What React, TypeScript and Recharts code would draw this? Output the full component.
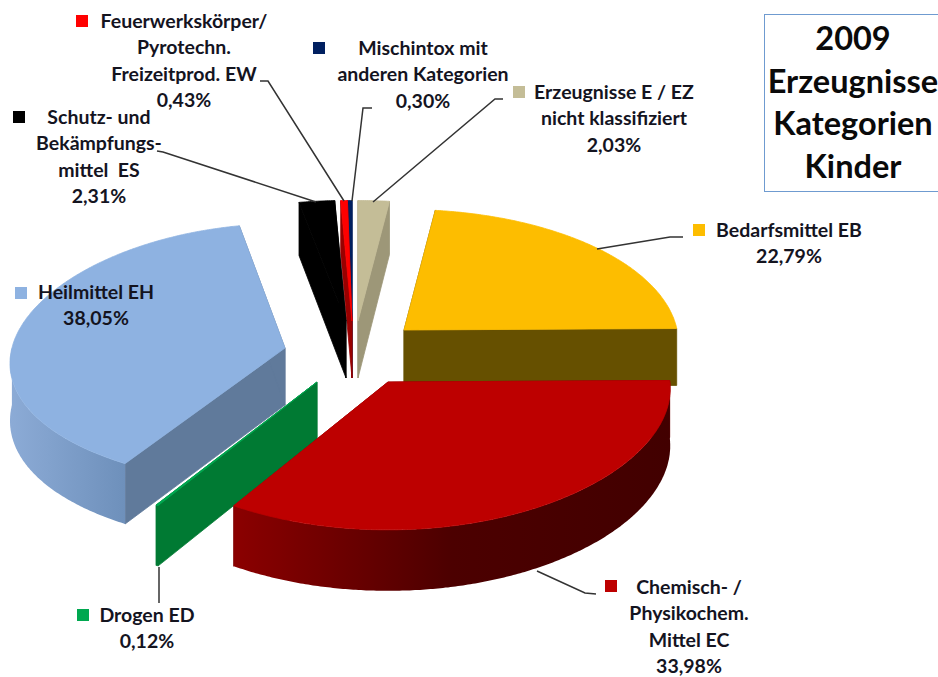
import React from "react";
import { PieChart, Pie, Cell } from "recharts";

// slice order runs counterclockwise from Bedarfsmittel so that Recharts paints them back to front
const categoryLines = [
  ["Bedarfsmittel EB"],
  ["Erzeugnisse E / EZ", "nicht klassifiziert"],
  ["Mischintox mit", "anderen Kategorien"],
  ["Feuerwerkskörper/", "Pyrotechn.", "Freizeitprod. EW"],
  ["Schutz- und", "Bekämpfungs-", "mittel  ES"],
  ["Heilmittel EH"],
  ["Drogen ED"],
  ["Chemisch- /", "Physikochem.", "Mittel EC"],
];
const shares = [22.79, 2.03, 0.3, 0.43, 2.31, 38.05, 0.12, 33.98];
const titleLines = ["2009", "Erzeugnisse", "Kategorien", "Kinder"];

const topColors = ["#fdbd00", "#c4bd97", "#002060", "#ff0000", "#000000", "#8eb2e1", "#00a850", "#bd0000"];
const wallColors = ["#665000", "#9d9778", "#001a50", "#990000", "#000000", "#607a9b", "#007a33", "#7a0000"];
const rimGradients: (string[] | null)[] = [
  null,
  null,
  null,
  null,
  null,
  ["#8cabd6", "#6e90bb"],
  null,
  ["#8b0000", "#4c0000", "#420000"],
];

// explode offset plus the ellipse each slice is projected on (rx, ry as share of the radius, kx, ky perspective)
const explode = [
  { dx: 54, dy: -20, rx: 0.993, ry: 0.487, kx: 0.1, ky: 0.1 },
  { dx: 8, dy: -29, rx: 1, ry: 0.487, kx: 0.1, ky: 0.1 },
  { dx: 2, dy: -29, rx: 1, ry: 0.487, kx: 0.1, ky: 0.1 },
  { dx: 2, dy: -29, rx: 1, ry: 0.487, kx: 0.1, ky: 0.1 },
  { dx: -4, dy: -29, rx: 1, ry: 0.487, kx: 0.1, ky: 0.1 },
  { dx: -65, dy: -2, rx: 0.993, ry: 0.476, kx: 0.12, ky: 0.05 },
  { dx: -33, dy: 32, rx: 1, ry: 0.487, kx: 0.12, ky: 0.1 },
  { dx: 38, dy: 32, rx: 1.025, ry: 0.48, kx: 0.05, ky: 0.12 },
];

const labelLayout = [
  { x: 789, y: 237, mx: 693, my: 224, leader: "M683 237 L670 237 L597 249" },
  { x: 614, y: 99, mx: 513, my: 86, leader: "M503 99 L495 99 L373 202" },
  { x: 423, y: 55, mx: 313, my: 42, leader: "M372 108 L363 108 L352 201" },
  { x: 184, y: 28, mx: 76, my: 15, leader: "M260 81 L268 81 L344 201" },
  { x: 99, y: 124, mx: 13, my: 111, leader: "M157 151 L163 152 L316 202" },
  { x: 96, y: 299, mx: 15, my: 287, leader: "" },
  { x: 147, y: 622, mx: 77, my: 609, leader: "M159 567 L159 603" },
  { x: 689, y: 594, mx: 605, my: 580, leader: "M596 594 L585 593 L537 571" },
];

const LINE_HEIGHT = 26.3;
const FONT = "Lato, sans-serif";

const data = shares.map((value, i) => ({ name: categoryLines[i].join(" "), value }));

// start where Bedarfsmittel meets Chemisch, i.e. after the first two slices clockwise from 12 o'clock
const firstAngle = 90 - ((shares[0] + shares[1]) / 100) * 360;

function SliceShape(props: any) {
  const { cx, cy, outerRadius, startAngle, endAngle, index } = props;
  const off = explode[index];
  const ax = cx + off.dx;
  const ay = cy + off.dy;
  const rx = outerRadius * off.rx;
  const ry = outerRadius * off.ry;
  // clockwise degrees from 12 o'clock, kept positive
  let from = 90 - endAngle;
  let to = 90 - startAngle;
  while (from < 0) {
    from += 360;
    to += 360;
  }

  const top = (deg: number) => {
    const rad = (deg * Math.PI) / 180;
    const c = Math.cos(rad);
    return [ax + Math.sin(rad) * rx * (1 - off.kx * c), ay - c * ry * (1 - off.ky * c)];
  };
  const depth = (deg: number) => 57 - 4 * Math.cos((deg * Math.PI) / 180);
  const low = (deg: number) => {
    const [x, y] = top(deg);
    return [x, y + depth(deg)];
  };
  const sweep = (a: number, b: number, fn: (d: number) => number[]) => {
    const n = Math.max(2, Math.ceil(Math.abs(b - a) * 2));
    const pts = [];
    for (let i = 0; i <= n; i++) pts.push(fn(a + ((b - a) * i) / n));
    return pts;
  };
  const toD = (pts: number[][]) => "M" + pts.map((p) => `${p[0].toFixed(1)} ${p[1].toFixed(1)}`).join(" L") + " Z";

  const cut = (deg: number) => toD([[ax, ay], top(deg), low(deg), [ax, ay + 57]]);
  const topFace = toD([[ax, ay], ...sweep(from, to, top)]);

  // outer wall only shows on the front half of the ellipse
  const wallFrom = Math.max(from, 90);
  const wallTo = Math.min(to, 270);
  const wall = wallTo > wallFrom ? toD([...sweep(wallFrom, wallTo, top), ...sweep(wallTo, wallFrom, low)]) : null;

  const stops = rimGradients[index];
  const gradId = `rim-${index}`;
  const wallColor = wallColors[index];
  const topColor = topColors[index];

  return (
    <g>
      {stops && (
        <defs>
          <linearGradient id={gradId} x1="0" y1="0" x2="1" y2="0">
            {stops.map((c, i) => (
              <stop key={c} offset={i / (stops.length - 1)} stopColor={c} />
            ))}
          </linearGradient>
        </defs>
      )}
      <path d={cut(from)} fill={wallColor} stroke={wallColor} strokeWidth={0.8} />
      <path d={cut(to)} fill={wallColor} stroke={wallColor} strokeWidth={0.8} />
      {wall && <path d={wall} fill={stops ? `url(#${gradId})` : wallColor} />}
      <path d={topFace} fill={topColor} stroke={topColor} strokeWidth={0.8} />
    </g>
  );
}

function SliceLabel(props: any) {
  const { index } = props;
  const pos = labelLayout[index];
  const lines = [...categoryLines[index], shares[index].toFixed(2).replace(".", ",") + "%"];
  return (
    <g>
      {pos.leader && <path d={pos.leader} fill="none" stroke="#333" strokeWidth={1.5} />}
      <rect x={pos.mx} y={pos.my} width={12} height={12} fill={topColors[index]} />
      <text
        textAnchor="middle"
        fontFamily={FONT}
        fontWeight={700}
        fontSize={19.5}
        fill="#14141f"
        style={{ whiteSpace: "pre" }}
      >
        {lines.map((line, i) => (
          <tspan key={i} x={pos.x} y={pos.y + i * LINE_HEIGHT}>
            {line}
          </tspan>
        ))}
      </text>
    </g>
  );
}

export default function App() {
  return (
    <div style={{ position: "absolute", left: 0, top: 0, width: 938, height: 677, background: "#fff", overflow: "hidden" }}>
      <PieChart width={938} height={677} margin={{ top: 0, right: 0, bottom: 0, left: 0 }}>
        <Pie
          data={data}
          dataKey="value"
          cx={350}
          cy={350}
          innerRadius={0}
          outerRadius={275}
          startAngle={firstAngle}
          endAngle={firstAngle + 360}
          stroke="none"
          shape={SliceShape}
          label={SliceLabel}
          labelLine={false}
          isAnimationActive={false}
        >
          {data.map((d, i) => (
            <Cell key={d.name} fill={topColors[i]} />
          ))}
        </Pie>
      </PieChart>
      <div
        style={{
          position: "absolute",
          left: 764,
          top: 14,
          width: 190,
          height: 178,
          border: "1.5px solid #6f9bd0",
          boxSizing: "border-box",
        }}
      />
      <div
        style={{
          position: "absolute",
          left: 764,
          top: 17,
          width: 178,
          textAlign: "center",
          fontFamily: FONT,
          fontWeight: 700,
          fontSize: 32.5,
          lineHeight: "42.7px",
          color: "#0a0a0a",
        }}
      >
        {titleLines.map((t) => (
          <div key={t}>{t}</div>
        ))}
      </div>
    </div>
  );
}
